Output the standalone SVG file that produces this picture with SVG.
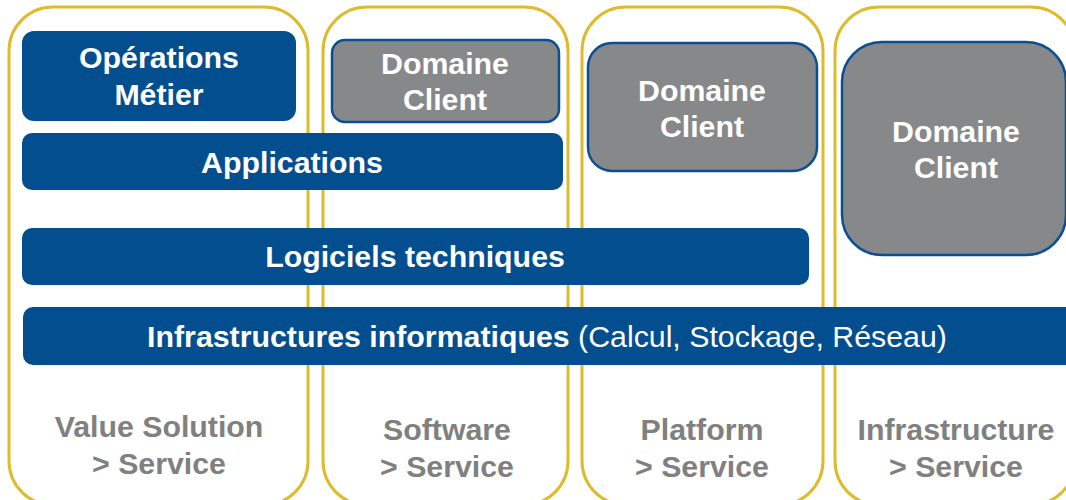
<svg xmlns="http://www.w3.org/2000/svg" width="1066" height="500" viewBox="0 0 1066 500">
<style>
.col{fill:#fff;stroke:#DDBB2C;stroke-width:3}
.blue{fill:#034E8F}
.gray{fill:#87888A;stroke:#0A4F96;stroke-width:2.5}
text{font-family:"Liberation Sans",Arial,sans-serif;font-weight:bold;font-size:30.3px;text-anchor:middle}
.w{fill:#fff}
.lab{fill:#808080}
</style>
<rect width="1066" height="500" fill="#fff"/>
<g id="columns">
<rect class="col" x="9" y="7" width="299" height="498" rx="44"/>
<rect class="col" x="323" y="7" width="245" height="498" rx="44"/>
<rect class="col" x="582" y="7" width="241" height="498" rx="44"/>
<rect class="col" x="835" y="7" width="240" height="498" rx="44"/>
</g>
<g id="ops">
<rect class="blue" x="22" y="31" width="274" height="90" rx="12"/>
<text class="w" x="159" y="68">Opérations</text>
<text class="w" x="159" y="105">Métier</text>
</g>
<g id="dc-saas">
<rect class="gray" x="332" y="40" width="227" height="82" rx="13"/>
<text class="w" x="445" y="74">Domaine</text>
<text class="w" x="445" y="110">Client</text>
</g>
<g id="dc-paas">
<rect class="gray" x="588" y="43" width="229" height="128" rx="24"/>
<text class="w" x="702" y="101">Domaine</text>
<text class="w" x="702" y="137">Client</text>
</g>
<g id="dc-iaas">
<rect class="gray" x="842" y="42" width="224" height="213" rx="40"/>
<text class="w" x="956" y="142">Domaine</text>
<text class="w" x="956" y="178">Client</text>
</g>
<g id="applications">
<rect class="blue" x="22" y="133" width="541" height="57" rx="10"/>
<text class="w" x="292" y="173">Applications</text>
</g>
<g id="logiciels">
<rect class="blue" x="22" y="228" width="787" height="57" rx="10"/>
<text class="w" x="415" y="267">Logiciels techniques</text>
</g>
<g id="infra">
<rect class="blue" x="23" y="307" width="1060" height="58" rx="10"/>
<text class="w" x="547" y="347">Infrastructures informatiques<tspan font-weight="normal"> (Calcul, Stockage, Réseau)</tspan></text>
</g>
<g id="labels">
<text class="lab" x="159" y="437">Value Solution</text>
<text class="lab" x="159" y="474">&gt; Service</text>
<text class="lab" x="447" y="440">Software</text>
<text class="lab" x="447" y="477">&gt; Service</text>
<text class="lab" x="702" y="440">Platform</text>
<text class="lab" x="702" y="477">&gt; Service</text>
<text class="lab" x="956" y="440">Infrastructure</text>
<text class="lab" x="956" y="477">&gt; Service</text>
</g>
</svg>
